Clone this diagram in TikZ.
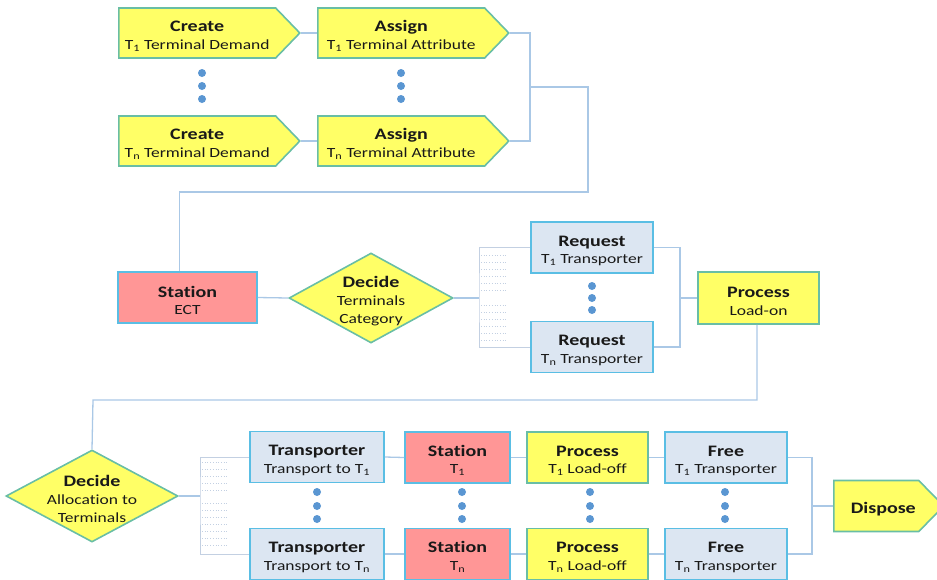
\documentclass[tikz,border=0pt]{standalone}
\usepackage{fontspec}
\setmainfont{Carlito}[FakeStretch=1.25, Ligatures=NoCommon]
\usetikzlibrary{shapes.geometric,shapes.symbols}
\definecolor{yel}{RGB}{255,255,102}
\definecolor{ybord}{RGB}{105,190,165}
\definecolor{bfill}{RGB}{220,230,242}
\definecolor{bbord}{RGB}{90,190,228}
\definecolor{sfill}{RGB}{255,150,150}
\definecolor{conncol}{RGB}{170,200,230}
\definecolor{hatchcol}{RGB}{195,208,226}
\definecolor{dotcol}{RGB}{90,150,210}
\definecolor{txt}{RGB}{25,25,25}
\newcommand{\mytitle}[1]{{\bfseries\fontsize{16}{17.5}\selectfont\rule{0pt}{17pt}#1}}
\tikzset{
  base/.style={line width=1.6pt, inner sep=0pt, align=center, text=txt,
    font=\fontsize{14}{17.5}\selectfont},
  ybox/.style={base, rectangle, fill=yel, draw=ybord, minimum height=51pt},
  bbox/.style={base, rectangle, fill=bfill, draw=bbord, minimum height=51pt},
  sbox/.style={base, rectangle, fill=sfill, draw=bbord, minimum height=51pt},
  ysig/.style={base, signal, signal to=east, signal pointer angle=92, fill=yel, draw=ybord, minimum height=50pt, anchor=west},
  ydia/.style={base, diamond, fill=yel, draw=ybord, inner sep=-14pt, font=\fontsize{14}{18}\selectfont},
  conn/.style={draw=conncol, line width=1.3pt},
  hatch/.style={draw=hatchcol, line width=0.7pt, dotted},
  bdot/.style={circle, fill=dotcol, inner sep=0pt, minimum size=8pt}
}
\begin{document}
\begin{tikzpicture}[x=1pt,y=-1pt]
\useasboundingbox (0,0) rectangle (937,579);
% top rows
\node[ysig, minimum width=181pt] (cr1) at (118,33) {\mytitle{Create}\\T\textsubscript{1} Terminal Demand};
\node[ysig, minimum width=191pt] (as1) at (317,33) {\mytitle{Assign}\\T\textsubscript{1} Terminal Attribute};
\node[ysig, minimum width=181pt] (crn) at (118,141) {\mytitle{Create}\\T\textsubscript{n} Terminal Demand};
\node[ysig, minimum width=191pt] (asn) at (317,141) {\mytitle{Assign}\\T\textsubscript{n} Terminal Attribute};
\foreach \yy [count=\i] in {73,86,99}{
  \node[bdot] (dc\i) at (202,\yy) {};
  \node[bdot] (da\i) at (401,\yy) {};
}
% middle row
\node[sbox, minimum width=139pt] (st) at (187.5,297.5) {\mytitle{Station}\\ECT};
\node[ydia, minimum width=164pt, minimum height=90pt] (dt) at (371,298) {\mytitle{Decide}\\Terminals\\Category};
\node[bbox, minimum width=122pt] (rq1) at (592,247.5) {\mytitle{Request}\\T\textsubscript{1} Transporter};
\node[bbox, minimum width=122pt] (rqn) at (592,347) {\mytitle{Request}\\T\textsubscript{n} Transporter};
\foreach \yy [count=\i] in {286,298,310}{
  \node[bdot] (dr\i) at (592,\yy) {};
}
\node[ybox, minimum width=121pt, minimum height=52pt] (pl) at (758.5,298) {\mytitle{Process}\\Load-on};
% bottom rows
\node[ydia, minimum width=172pt, minimum height=92pt] (dal) at (92,496) {\mytitle{Decide}\\Allocation to\\Terminals};
\node[bbox, minimum width=134pt] (tr1) at (317,457) {\mytitle{Transporter}\\Transport to T\textsubscript{1}};
\node[bbox, minimum width=134pt] (trn) at (317,554) {\mytitle{Transporter}\\Transport to T\textsubscript{n}};
\node[sbox, minimum width=105pt] (st1) at (457.5,457.5) {\mytitle{Station}\\T\textsubscript{1}};
\node[sbox, minimum width=105pt] (stn) at (457.5,554) {\mytitle{Station}\\T\textsubscript{n}};
\node[ybox, minimum width=121pt] (pr1) at (587.5,457.5) {\mytitle{Process}\\T\textsubscript{1} Load-off};
\node[ybox, minimum width=121pt] (prn) at (587.5,554) {\mytitle{Process}\\T\textsubscript{n} Load-off};
\node[bbox, minimum width=122pt] (fr1) at (726,457.5) {\mytitle{Free}\\T\textsubscript{1} Transporter};
\node[bbox, minimum width=122pt] (frn) at (726,554) {\mytitle{Free}\\T\textsubscript{n} Transporter};
\node[ysig, signal pointer angle=91, minimum width=110pt, minimum height=51pt] (dp) at (833,506) {\hspace*{14pt}\mytitle{Dispose}};
\foreach \xx/\nm in {317/t,462/s,590/p,725/f}{
  \foreach \yy [count=\i] in {492,506,519}{
    \node[bdot] (d\nm\i) at (\xx,\yy) {};
  }
}
% connectors top
\draw[conn] (cr1.east) -- (as1.west);
\draw[conn] (crn.east) -- (asn.west);
\coordinate (j1) at (530,87);
\draw[conn] (as1.east) -| (j1) |- (asn.east);
\draw[conn] (j1) -- (588,87) -- (588,192) -| ([xshift=62pt]st.north west);
% connectors middle
\draw[conn] (st.east) -- (dt.west);
\coordinate (h1) at (479,298);
\draw[conn] (dt.east) -- (h1);
\draw[conn, line width=0.8pt, draw=hatchcol] (rq1.west) -| (h1) |- (rqn.west);
\foreach \yy in {255,262,269,276,283,290,305,312,319,326,333,340}{
  \draw[hatch] (481,\yy) -- (507,\yy);
}
\coordinate (j2) at (680,298);
\draw[conn] (rq1.east) -| (j2) |- (rqn.east);
\draw[conn] (j2) -- (pl.west);
\draw[conn] ([xshift=-1.5pt]pl.south) |- (93,400) -- (dal.north);
% connectors bottom
\coordinate (h2) at (200,496);
\draw[conn] (dal.east) -- (h2);
\draw[conn, line width=0.8pt, draw=hatchcol] (tr1.west) -| (h2) |- (trn.west);
\foreach \yy in {462,469,476,483,490,503,510,517,524,531,538,545}{
  \draw[hatch] (202,\yy) -- (228,\yy);
}
\draw[conn] (tr1.east) -- (st1.west);
\draw[conn] (st1.east) -- (pr1.west);
\draw[conn] (pr1.east) -- (fr1.west);
\draw[conn] (trn.east) -- (stn.west);
\draw[conn] (stn.east) -- (prn.west);
\draw[conn] (prn.east) -- (frn.west);
\coordinate (j3) at (812,506);
\draw[conn] (fr1.east) -| (j3) |- (frn.east);
\draw[conn] (j3) -- (dp.west);
\end{tikzpicture}
\end{document}
